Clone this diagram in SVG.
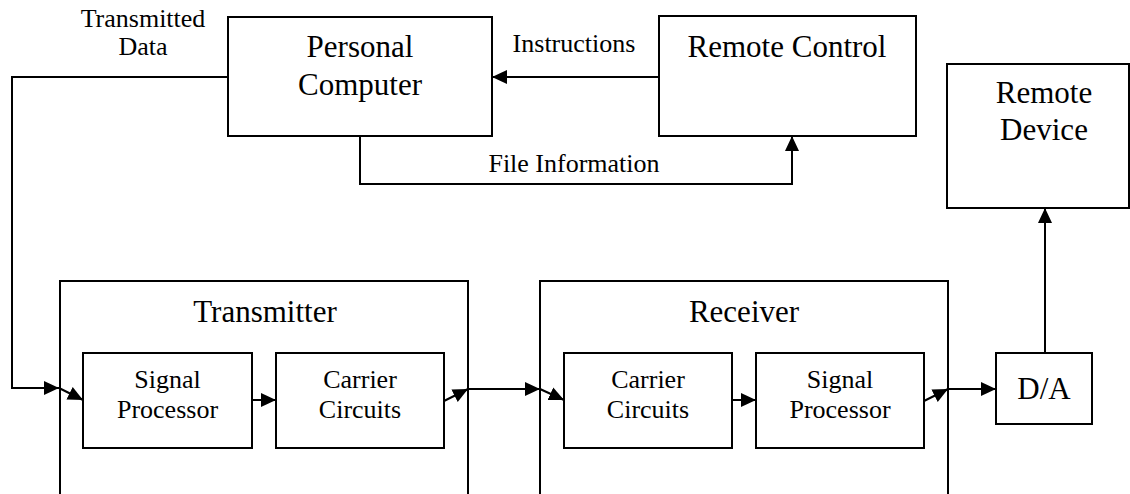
<svg xmlns="http://www.w3.org/2000/svg" width="1130" height="494" viewBox="0 0 1130 494">
  <style>
    .box { fill: #fff; stroke: #000; stroke-width: 2; }
    .frame { fill: none; stroke: #000; stroke-width: 2; }
    .wire { fill: none; stroke: #000; stroke-width: 2; }
    .big { font-family: "Liberation Serif", "Times New Roman", serif; font-size: 31px; fill: #000; text-anchor: middle; }
    .mid { font-family: "Liberation Serif", "Times New Roman", serif; font-size: 26px; fill: #000; text-anchor: middle; }
    .lbl { font-family: "Liberation Serif", "Times New Roman", serif; font-size: 26px; fill: #000; text-anchor: middle; }
  </style>
  <defs>
    <marker id="arrow" viewBox="0 0 15 14" refX="15" refY="7" markerWidth="15" markerHeight="14" markerUnits="userSpaceOnUse" orient="auto">
      <path d="M0,0 L15,7 L0,14 Z" fill="#000"/>
    </marker>
  </defs>
  <rect width="1130" height="494" fill="#fff"/>

  <!-- connectors -->
  <g id="connectors">
    <!-- PC -> Transmitter (transmitted data) -->
    <polyline class="wire" points="228,77 12,77 12,388 59,388" marker-end="url(#arrow)"/>
    <line class="wire" x1="59" y1="388" x2="83" y2="400" marker-end="url(#arrow)"/>
    <!-- Remote Control -> PC (instructions) -->
    <line class="wire" x1="659" y1="77" x2="492" y2="77" marker-end="url(#arrow)"/>
    <!-- PC -> Remote Control (file information) -->
    <polyline class="wire" points="360,137 360,184 792,184 792,136" marker-end="url(#arrow)"/>
    <!-- transmitter chain -->
    <line class="wire" x1="252" y1="400" x2="276" y2="400" marker-end="url(#arrow)"/>
    <line class="wire" x1="444" y1="401" x2="468" y2="389" marker-end="url(#arrow)"/>
    <line class="wire" x1="468" y1="389" x2="540" y2="389" marker-end="url(#arrow)"/>
    <!-- receiver chain -->
    <line class="wire" x1="540" y1="389" x2="564" y2="400" marker-end="url(#arrow)"/>
    <line class="wire" x1="732" y1="400" x2="756" y2="400" marker-end="url(#arrow)"/>
    <line class="wire" x1="924" y1="401" x2="948" y2="389" marker-end="url(#arrow)"/>
    <line class="wire" x1="948" y1="389" x2="996" y2="389" marker-end="url(#arrow)"/>
    <!-- D/A -> Remote Device -->
    <line class="wire" x1="1045" y1="353" x2="1045" y2="208" marker-end="url(#arrow)"/>
  </g>

  <g id="label-transmitted-data">
    <text class="lbl" x="143" y="27">Transmitted</text>
    <text class="lbl" x="143" y="55">Data</text>
  </g>
  <g id="label-instructions">
    <text class="lbl" x="574" y="52">Instructions</text>
  </g>
  <g id="label-file-information">
    <text class="lbl" x="574" y="172">File Information</text>
  </g>

  <g id="personal-computer">
    <rect class="box" x="228" y="17" width="264" height="119"/>
    <text class="big" x="360" y="57">Personal</text>
    <text class="big" x="360" y="95">Computer</text>
  </g>

  <g id="remote-control">
    <rect class="box" x="659" y="16" width="257" height="120"/>
    <text class="big" x="787" y="57">Remote Control</text>
  </g>

  <g id="remote-device">
    <rect class="box" x="947" y="64" width="182" height="144"/>
    <text class="big" x="1044" y="103">Remote</text>
    <text class="big" x="1044" y="140">Device</text>
  </g>

  <g id="transmitter">
    <rect class="frame" x="60" y="281" width="408" height="240"/>
    <text class="big" x="265" y="322">Transmitter</text>
    <g id="tx-signal-processor">
      <rect class="box" x="83" y="353" width="169" height="95"/>
      <text class="mid" x="167.5" y="388">Signal</text>
      <text class="mid" x="167.5" y="418">Processor</text>
    </g>
    <g id="tx-carrier-circuits">
      <rect class="box" x="276" y="353" width="168" height="95"/>
      <text class="mid" x="360" y="388">Carrier</text>
      <text class="mid" x="360" y="418">Circuits</text>
    </g>
  </g>

  <g id="receiver">
    <rect class="frame" x="540" y="281" width="408" height="240"/>
    <text class="big" x="744" y="322">Receiver</text>
    <g id="rx-carrier-circuits">
      <rect class="box" x="564" y="353" width="168" height="95"/>
      <text class="mid" x="648" y="388">Carrier</text>
      <text class="mid" x="648" y="418">Circuits</text>
    </g>
    <g id="rx-signal-processor">
      <rect class="box" x="756" y="353" width="168" height="95"/>
      <text class="mid" x="840" y="388">Signal</text>
      <text class="mid" x="840" y="418">Processor</text>
    </g>
  </g>

  <g id="d-a">
    <rect class="box" x="996" y="353" width="96" height="71"/>
    <text class="big" x="1044" y="399">D/A</text>
  </g>
</svg>
